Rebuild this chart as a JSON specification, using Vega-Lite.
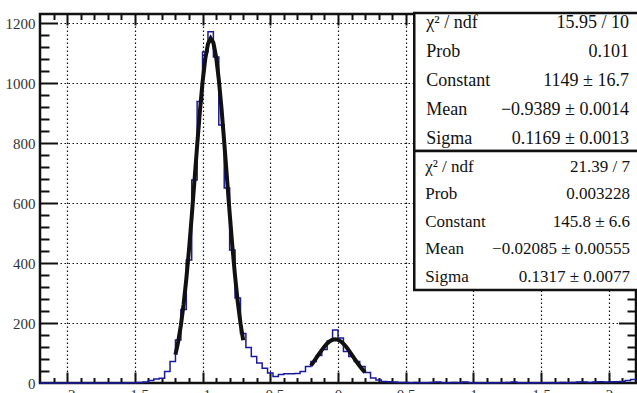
{
  "$schema": "https://vega.github.io/schema/vega-lite/v6.json",
  "width": 596,
  "height": 369,
  "autosize": {"type": "none"},
  "padding": {"left": 40, "top": 14, "right": 1, "bottom": 10},
  "background": "white",
  "title": {"text": "E_core_3_all", "frame": "group", "anchor": "middle", "offset": 9, "baseline": "alphabetic", "font": "Liberation Serif", "fontSize": 16, "fontWeight": "normal", "color": "#666", "dx": -40},
  "config": {
    "view": {"stroke": "#111111", "strokeWidth": 2.5},
    "axis": {
      "domain": false,
      "labelFont": "Liberation Serif", "labelFontSize": 15, "labelColor": "#333",
      "gridColor": "#111111", "gridDash": [1.5, 2.5], "gridWidth": 1.2, "gridOpacity": 1,
      "title": null, "labelFlush": false, "labelOverlap": false
    }
  },
  "datasets": {
    "hist": [
      {"x": -2.20, "count": 0}, {"x": -2.16, "count": 0}, {"x": -2.12, "count": 0}, {"x": -2.08, "count": 0},
      {"x": -2.04, "count": 0}, {"x": -2.00, "count": 0}, {"x": -1.96, "count": 0}, {"x": -1.92, "count": 0},
      {"x": -1.88, "count": 0}, {"x": -1.84, "count": 0}, {"x": -1.80, "count": 0}, {"x": -1.76, "count": 0},
      {"x": -1.72, "count": 0}, {"x": -1.68, "count": 0}, {"x": -1.64, "count": 0}, {"x": -1.60, "count": 0},
      {"x": -1.56, "count": 1}, {"x": -1.52, "count": 1}, {"x": -1.48, "count": 2}, {"x": -1.44, "count": 3},
      {"x": -1.40, "count": 8}, {"x": -1.36, "count": 13}, {"x": -1.32, "count": 16}, {"x": -1.28, "count": 38},
      {"x": -1.24, "count": 72}, {"x": -1.20, "count": 143}, {"x": -1.16, "count": 245}, {"x": -1.12, "count": 410},
      {"x": -1.08, "count": 677}, {"x": -1.04, "count": 938}, {"x": -1.00, "count": 1103}, {"x": -0.96, "count": 1171},
      {"x": -0.92, "count": 1087}, {"x": -0.88, "count": 860}, {"x": -0.84, "count": 650}, {"x": -0.80, "count": 443},
      {"x": -0.76, "count": 283}, {"x": -0.72, "count": 165}, {"x": -0.68, "count": 118}, {"x": -0.64, "count": 88},
      {"x": -0.60, "count": 67}, {"x": -0.56, "count": 49}, {"x": -0.52, "count": 33}, {"x": -0.48, "count": 22},
      {"x": -0.44, "count": 28}, {"x": -0.40, "count": 31}, {"x": -0.36, "count": 31}, {"x": -0.32, "count": 32},
      {"x": -0.28, "count": 38}, {"x": -0.24, "count": 55}, {"x": -0.20, "count": 72}, {"x": -0.16, "count": 92},
      {"x": -0.12, "count": 112}, {"x": -0.08, "count": 140}, {"x": -0.04, "count": 177}, {"x": 0.00, "count": 150},
      {"x": 0.04, "count": 105}, {"x": 0.08, "count": 88}, {"x": 0.12, "count": 72}, {"x": 0.16, "count": 55},
      {"x": 0.20, "count": 35}, {"x": 0.24, "count": 17}, {"x": 0.28, "count": 10}, {"x": 0.32, "count": 5},
      {"x": 0.36, "count": 4}, {"x": 0.40, "count": 3}, {"x": 0.44, "count": 2}, {"x": 0.48, "count": 2},
      {"x": 0.52, "count": 1}, {"x": 0.56, "count": 2}, {"x": 0.60, "count": 1}, {"x": 0.64, "count": 1},
      {"x": 0.68, "count": 2}, {"x": 0.72, "count": 3}, {"x": 0.76, "count": 1}, {"x": 0.80, "count": 1},
      {"x": 0.84, "count": 2}, {"x": 0.88, "count": 1}, {"x": 0.92, "count": 3}, {"x": 0.96, "count": 1},
      {"x": 1.00, "count": 0}, {"x": 1.04, "count": 1}, {"x": 1.08, "count": 1}, {"x": 1.12, "count": 0},
      {"x": 1.16, "count": 1}, {"x": 1.20, "count": 1}, {"x": 1.24, "count": 2}, {"x": 1.28, "count": 3},
      {"x": 1.32, "count": 1}, {"x": 1.36, "count": 1}, {"x": 1.40, "count": 0}, {"x": 1.44, "count": 1},
      {"x": 1.48, "count": 1}, {"x": 1.52, "count": 1}, {"x": 1.56, "count": 0}, {"x": 1.60, "count": 1},
      {"x": 1.64, "count": 2}, {"x": 1.68, "count": 1}, {"x": 1.72, "count": 2}, {"x": 1.76, "count": 3},
      {"x": 1.80, "count": 3}, {"x": 1.84, "count": 2}, {"x": 1.88, "count": 3}, {"x": 1.92, "count": 4},
      {"x": 1.96, "count": 3}, {"x": 2.00, "count": 4}, {"x": 2.04, "count": 4}, {"x": 2.08, "count": 5},
      {"x": 2.12, "count": 8}, {"x": 2.16, "count": 12}, {"x": 2.20, "count": 12}
    ],
    "fit1": [
      {"x": -1.20, "f": 94.85}, {"x": -1.18, "f": 136.96}, {"x": -1.16, "f": 192.15}, {"x": -1.14, "f": 261.63},
      {"x": -1.12, "f": 346.07}, {"x": -1.10, "f": 444.56}, {"x": -1.08, "f": 554.58}, {"x": -1.06, "f": 671.85},
      {"x": -1.04, "f": 790.51}, {"x": -1.02, "f": 903.22}, {"x": -1.00, "f": 1002.30}, {"x": -0.98, "f": 1080.14},
      {"x": -0.96, "f": 1130.42}, {"x": -0.94, "f": 1148.95}, {"x": -0.92, "f": 1134.08}, {"x": -0.90, "f": 1087.10},
      {"x": -0.88, "f": 1012.03}, {"x": -0.86, "f": 914.94}, {"x": -0.84, "f": 803.31}, {"x": -0.82, "f": 684.99},
      {"x": -0.80, "f": 567.24}, {"x": -0.78, "f": 456.15}, {"x": -0.76, "f": 356.24}, {"x": -0.74, "f": 270.19},
      {"x": -0.72, "f": 199.10}, {"x": -0.70, "f": 142.38}
    ],
    "fit2": [
      {"x": -0.20, "f": 57.80}, {"x": -0.18, "f": 70.25}, {"x": -0.16, "f": 83.43}, {"x": -0.14, "f": 96.83},
      {"x": -0.12, "f": 109.82}, {"x": -0.10, "f": 121.71}, {"x": -0.08, "f": 131.81}, {"x": -0.06, "f": 139.50},
      {"x": -0.04, "f": 144.27}, {"x": -0.02, "f": 145.80}, {"x": 0.00, "f": 143.98}, {"x": 0.02, "f": 138.95},
      {"x": 0.04, "f": 131.04}, {"x": 0.06, "f": 120.76}, {"x": 0.08, "f": 108.75}, {"x": 0.10, "f": 95.70},
      {"x": 0.12, "f": 82.30}, {"x": 0.14, "f": 69.16}, {"x": 0.16, "f": 56.79}, {"x": 0.18, "f": 45.57},
      {"x": 0.20, "f": 35.73}
    ],
    "stats": [
      {"box": 1, "line": 1, "label": "χ² / ndf", "value": "15.95 / 10"},
      {"box": 1, "line": 2, "label": "Prob", "value": "0.101"},
      {"box": 1, "line": 3, "label": "Constant", "value": "1149 ± 16.7"},
      {"box": 1, "line": 4, "label": "Mean", "value": "−0.9389 ± 0.0014"},
      {"box": 1, "line": 5, "label": "Sigma", "value": "0.1169 ± 0.0013"},
      {"box": 2, "line": 1, "label": "χ² / ndf", "value": "21.39 / 7"},
      {"box": 2, "line": 2, "label": "Prob", "value": "0.003228"},
      {"box": 2, "line": 3, "label": "Constant", "value": "145.8 ± 6.6"},
      {"box": 2, "line": 4, "label": "Mean", "value": "−0.02085 ± 0.00555"},
      {"box": 2, "line": 5, "label": "Sigma", "value": "0.1317 ± 0.0077"}
    ]
  },
  "layer": [
    {
      "data": {"name": "hist"},
      "mark": {"type": "line", "interpolate": "step-after", "stroke": "#1a1aa0", "strokeWidth": 1.5},
      "encoding": {
        "x": {"field": "x", "type": "quantitative", "scale": {"domain": [-2.2, 2.2], "nice": false, "zero": false},
              "axis": {"orient": "bottom", "values": [-2, -1.5, -1, -0.5, 0, 0.5, 1, 1.5, 2], "format": "~g", "ticks": false, "labelPadding": 4, "grid": true}},
        "y": {"field": "count", "type": "quantitative", "scale": {"domain": [0, 1230], "nice": false, "zero": false},
              "axis": {"orient": "left", "values": [0, 200, 400, 600, 800, 1000, 1200], "format": "d", "ticks": false, "labelPadding": 5, "grid": true}}
      }
    },
    {
      "data": {"name": "fit1"},
      "mark": {"type": "line", "stroke": "#111111", "strokeWidth": 4},
      "encoding": {
        "x": {"field": "x", "type": "quantitative", "scale": {"domain": [-2.2, 2.2], "nice": false, "zero": false},
              "axis": {"orient": "bottom", "values": [-2, -1.5, -1, -0.5, 0, 0.5, 1, 1.5, 2], "offset": -11, "tickSize": 11, "tickColor": "#111111", "tickWidth": 2, "labels": false, "grid": false}},
        "y": {"field": "f", "type": "quantitative", "scale": {"domain": [0, 1230], "nice": false, "zero": false},
              "axis": {"orient": "left", "values": [200, 400, 600, 800, 1000, 1200], "offset": -17.5, "tickSize": 17.5, "tickColor": "#111111", "tickWidth": 2, "labels": false, "grid": false}}
      }
    },
    {
      "data": {"name": "fit2"},
      "mark": {"type": "line", "stroke": "#111111", "strokeWidth": 4},
      "encoding": {
        "x": {"field": "x", "type": "quantitative", "scale": {"domain": [-2.2, 2.2], "nice": false, "zero": false},
              "axis": {"orient": "bottom", "values": [-2.1, -1.9, -1.8, -1.7, -1.6, -1.4, -1.3, -1.2, -1.1, -0.9, -0.8, -0.7, -0.6, -0.4, -0.3, -0.2, -0.1, 0.1, 0.2, 0.3, 0.4, 0.6, 0.7, 0.8, 0.9, 1.1, 1.2, 1.3, 1.4, 1.6, 1.7, 1.8, 1.9, 2.1], "offset": -5.5, "tickSize": 5.5, "tickColor": "#111111", "tickWidth": 2, "labels": false, "grid": false}},
        "y": {"field": "f", "type": "quantitative", "scale": {"domain": [0, 1230], "nice": false, "zero": false},
              "axis": {"orient": "left", "values": [40, 80, 120, 160, 240, 280, 320, 360, 440, 480, 520, 560, 640, 680, 720, 760, 840, 880, 920, 960, 1040, 1080, 1120, 1160], "offset": -9, "tickSize": 9, "tickColor": "#111111", "tickWidth": 2, "labels": false, "grid": false}}
      }
    },
    {
      "data": {"values": [{"b": 1}]},
      "mark": {"type": "rect", "fill": "white", "stroke": "#111111", "strokeWidth": 2.5},
      "encoding": {
        "x": {"datum": 0.563, "type": "quantitative", "scale": {"domain": [-2.2, 2.2], "nice": false, "zero": false},
              "axis": {"orient": "top", "values": [-2, -1.5, -1, -0.5, 0, 0.5, 1, 1.5, 2], "offset": -11, "tickSize": 11, "tickColor": "#111111", "tickWidth": 2, "labels": false, "grid": false}},
        "x2": {"datum": 2.27},
        "y": {"datum": 1233, "type": "quantitative", "scale": {"domain": [0, 1230], "nice": false, "zero": false},
              "axis": {"orient": "right", "values": [200, 400, 600, 800, 1000, 1200], "offset": -17.5, "tickSize": 17.5, "tickColor": "#111111", "tickWidth": 2, "labels": false, "grid": false}},
        "y2": {"datum": 773}
      }
    },
    {
      "data": {"values": [{"b": 2}]},
      "mark": {"type": "rect", "fill": "white", "stroke": "#111111", "strokeWidth": 2.5},
      "encoding": {
        "x": {"datum": 0.563, "type": "quantitative", "scale": {"domain": [-2.2, 2.2], "nice": false, "zero": false},
              "axis": {"orient": "top", "values": [-2.1, -1.9, -1.8, -1.7, -1.6, -1.4, -1.3, -1.2, -1.1, -0.9, -0.8, -0.7, -0.6, -0.4, -0.3, -0.2, -0.1, 0.1, 0.2, 0.3, 0.4, 0.6, 0.7, 0.8, 0.9, 1.1, 1.2, 1.3, 1.4, 1.6, 1.7, 1.8, 1.9, 2.1], "offset": -5.5, "tickSize": 5.5, "tickColor": "#111111", "tickWidth": 2, "labels": false, "grid": false}},
        "x2": {"datum": 2.27},
        "y": {"datum": 773, "type": "quantitative", "scale": {"domain": [0, 1230], "nice": false, "zero": false},
              "axis": {"orient": "right", "values": [40, 80, 120, 160, 240, 280, 320, 360, 440, 480, 520, 560, 640, 680, 720, 760, 840, 880, 920, 960, 1040, 1080, 1120, 1160], "offset": -9, "tickSize": 9, "tickColor": "#111111", "tickWidth": 2, "labels": false, "grid": false}},
        "y2": {"datum": 310}
      }
    },
    {
      "data": {"name": "stats"},
      "transform": [{"filter": "datum.box == 1"}],
      "mark": {"type": "text", "align": "left", "baseline": "middle", "font": "Liberation Serif", "fontSize": 18, "color": "#111111"},
      "encoding": {
        "x": {"datum": 0.652, "type": "quantitative", "scale": {"domain": [-2.2, 2.2], "nice": false, "zero": false}, "axis": null},
        "y": {"field": "line", "type": "quantitative", "scale": {"domain": [0.7, 13.424], "reverse": true, "nice": false, "zero": false}, "axis": null},
        "text": {"field": "label"}
      }
    },
    {
      "data": {"name": "stats"},
      "transform": [{"filter": "datum.box == 1"}],
      "mark": {"type": "text", "align": "right", "baseline": "middle", "font": "Liberation Serif", "fontSize": 18, "color": "#111111"},
      "encoding": {
        "x": {"datum": 2.148, "type": "quantitative", "scale": {"domain": [-2.2, 2.2], "nice": false, "zero": false}, "axis": null},
        "y": {"field": "line", "type": "quantitative", "scale": {"domain": [0.7, 13.424], "reverse": true, "nice": false, "zero": false}, "axis": null},
        "text": {"field": "value"}
      }
    },
    {
      "data": {"name": "stats"},
      "transform": [{"filter": "datum.box == 2"}],
      "mark": {"type": "text", "align": "left", "baseline": "middle", "font": "Liberation Serif", "fontSize": 17, "color": "#111111"},
      "encoding": {
        "x": {"datum": 0.644, "type": "quantitative", "scale": {"domain": [-2.2, 2.2], "nice": false, "zero": false}, "axis": null},
        "y": {"field": "line", "type": "quantitative", "scale": {"domain": [-4.5636, 8.855], "reverse": true, "nice": false, "zero": false}, "axis": null},
        "text": {"field": "label"}
      }
    },
    {
      "data": {"name": "stats"},
      "transform": [{"filter": "datum.box == 2"}],
      "mark": {"type": "text", "align": "right", "baseline": "middle", "font": "Liberation Serif", "fontSize": 17, "color": "#111111"},
      "encoding": {
        "x": {"datum": 2.156, "type": "quantitative", "scale": {"domain": [-2.2, 2.2], "nice": false, "zero": false}, "axis": null},
        "y": {"field": "line", "type": "quantitative", "scale": {"domain": [-4.5636, 8.855], "reverse": true, "nice": false, "zero": false}, "axis": null},
        "text": {"field": "value"}
      }
    }
  ],
  "resolve": {"scale": {"y": "independent"}, "axis": {"x": "independent", "y": "independent"}}
}
